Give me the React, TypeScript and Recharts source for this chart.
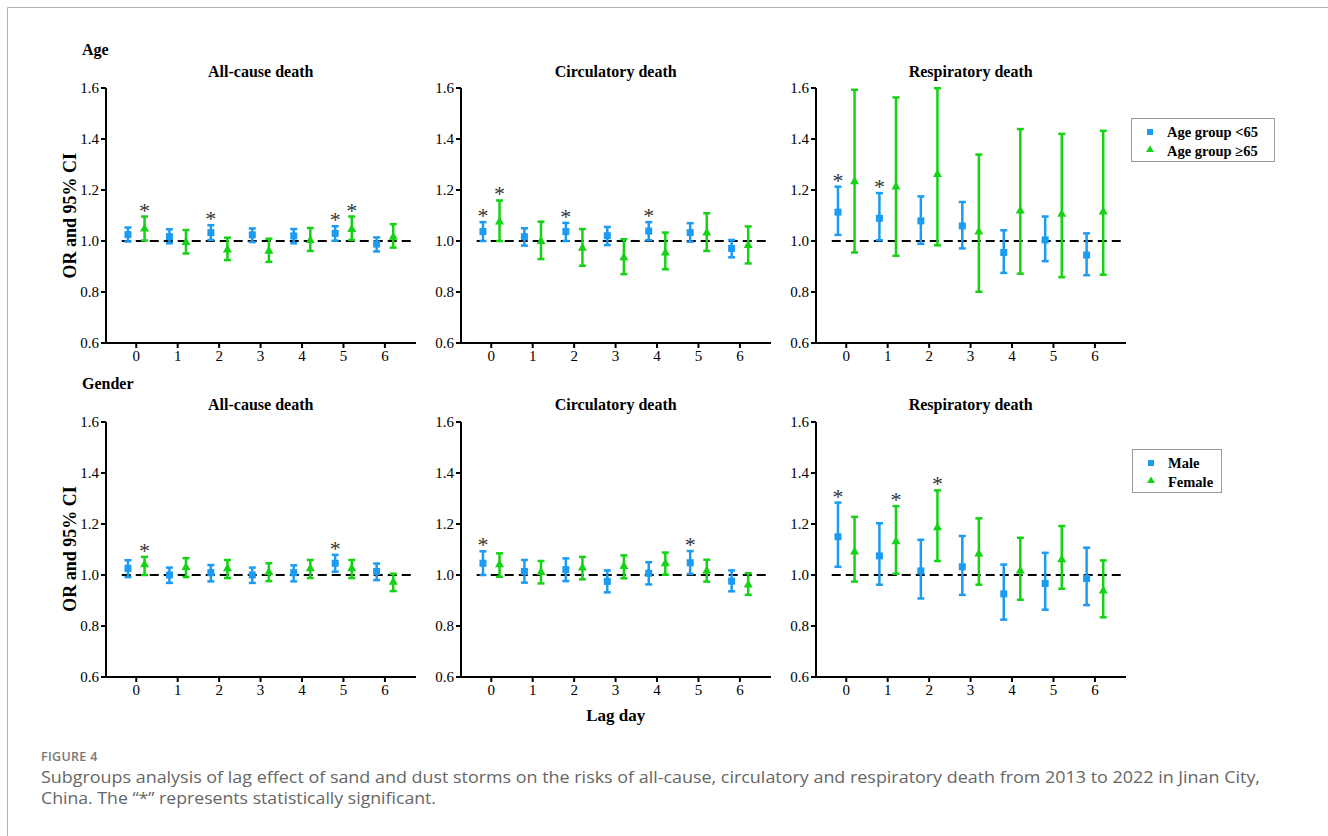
import React from 'react';
import { ScatterChart, Scatter, XAxis, YAxis, ErrorBar, ReferenceLine } from 'recharts';

type Triple = [number, number, number]; // [estimate, lower, upper]

const lagDays = [0, 1, 2, 3, 4, 5, 6];
const yTicks = [0.6, 0.8, 1.0, 1.2, 1.4, 1.6];
const xTicks = [0, 1, 2, 3, 4, 5, 6];

// ---- Age subgroups ----
const ageAllUnder65: Triple[] = [
  [1.025, 0.998, 1.053], [1.017, 0.991, 1.046], [1.033, 1.004, 1.062], [1.024, 0.996, 1.049],
  [1.02, 0.991, 1.047], [1.03, 1.001, 1.058], [0.988, 0.959, 1.014],
];
const ageAllOver65: Triple[] = [
  [1.049, 1.002, 1.096], [0.996, 0.951, 1.043], [0.967, 0.925, 1.013], [0.962, 0.918, 1.009],
  [1.004, 0.961, 1.051], [1.047, 1.004, 1.096], [1.017, 0.974, 1.066],
];
const ageAllUnder65Sig = [2, 5];
const ageAllOver65Sig = [0, 5];

const ageCircUnder65: Triple[] = [
  [1.037, 1.0, 1.074], [1.017, 0.982, 1.05], [1.037, 1.0, 1.071], [1.021, 0.984, 1.055],
  [1.039, 1.003, 1.074], [1.033, 0.997, 1.07], [0.971, 0.936, 1.004],
];
const ageCircOver65: Triple[] = [
  [1.076, 1.0, 1.159], [1.0, 0.929, 1.076], [0.974, 0.903, 1.047], [0.936, 0.87, 1.007],
  [0.955, 0.889, 1.033], [1.033, 0.961, 1.109], [0.984, 0.912, 1.057],
];
const ageCircUnder65Sig = [0, 2, 4];
const ageCircOver65Sig = [0];

const ageRespUnder65: Triple[] = [
  [1.113, 1.024, 1.213], [1.089, 1.003, 1.188], [1.079, 0.989, 1.175], [1.059, 0.971, 1.153],
  [0.955, 0.875, 1.042], [1.004, 0.921, 1.096], [0.945, 0.866, 1.03],
];
const ageRespOver65: Triple[] = [
  [1.234, 0.955, 1.593], [1.214, 0.942, 1.563], [1.263, 0.983, 1.599], [1.037, 0.801, 1.339],
  [1.12, 0.872, 1.439], [1.107, 0.858, 1.42], [1.116, 0.868, 1.432],
];
const ageRespUnder65Sig = [0, 1];
const ageRespOver65Sig: number[] = [];

// ---- Gender subgroups ----
const genderAllMale: Triple[] = [
  [1.026, 0.992, 1.058], [1.0, 0.969, 1.029], [1.009, 0.975, 1.039], [1.0, 0.969, 1.029],
  [1.009, 0.975, 1.038], [1.046, 1.013, 1.079], [1.014, 0.98, 1.045],
];
const genderAllFemale: Triple[] = [
  [1.042, 1.0, 1.071], [1.031, 0.992, 1.066], [1.026, 0.988, 1.059], [1.012, 0.976, 1.046],
  [1.026, 0.988, 1.059], [1.026, 0.988, 1.059], [0.974, 0.937, 1.005],
];
const genderAllMaleSig = [5];
const genderAllFemaleSig = [0];

const genderCircMale: Triple[] = [
  [1.046, 1.0, 1.093], [1.014, 0.97, 1.059], [1.021, 0.976, 1.065], [0.975, 0.932, 1.018],
  [1.007, 0.963, 1.05], [1.048, 1.004, 1.094], [0.976, 0.936, 1.018],
];
const genderCircFemale: Triple[] = [
  [1.042, 0.993, 1.085], [1.012, 0.967, 1.055], [1.029, 0.983, 1.071], [1.035, 0.987, 1.077],
  [1.046, 1.001, 1.088], [1.018, 0.974, 1.06], [0.963, 0.922, 1.007],
];
const genderCircMaleSig = [0, 5];
const genderCircFemaleSig: number[] = [];

const genderRespMale: Triple[] = [
  [1.15, 1.032, 1.284], [1.075, 0.962, 1.203], [1.016, 0.908, 1.138], [1.032, 0.922, 1.153],
  [0.926, 0.825, 1.041], [0.967, 0.864, 1.087], [0.986, 0.882, 1.107],
];
const genderRespFemale: Triple[] = [
  [1.092, 0.974, 1.228], [1.132, 1.005, 1.27], [1.187, 1.055, 1.332], [1.084, 0.962, 1.222],
  [1.018, 0.903, 1.146], [1.062, 0.946, 1.192], [0.939, 0.834, 1.057],
];
const genderRespMaleSig = [0];
const genderRespFemaleSig = [1, 2];

const BLUE = '#1c9bf2';
const GREEN = '#14d214';
const SERIF = "'Liberation Serif', 'Times New Roman', serif";
const SANS = "'Open Sans', 'Noto Sans', sans-serif";

const OFFSET = 0.2;

function toPoints(series: Triple[], offset: number) {
  return series.map((t, i) => ({ x: lagDays[i] + offset, y: t[0], err: [t[0] - t[1], t[2] - t[0]] }));
}
function toStars(series: Triple[], sig: number[], offset: number) {
  return sig.map((i) => ({ x: lagDays[i] + offset, y: series[i][2] }));
}

const SquareShape = (p: any) => (
  <rect x={p.cx - 3.5} y={p.cy - 3.5} width={7} height={7} fill={BLUE} />
);
const TriangleShape = (p: any) => (
  <polygon points={`${p.cx},${p.cy - 5} ${p.cx - 4.5},${p.cy + 3} ${p.cx + 4.5},${p.cy + 3}`} fill={GREEN} />
);
const StarShape = (p: any) => (
  <text x={p.cx} y={p.cy + 1} textAnchor="middle" fontFamily={SERIF} fontSize={22} fill="#333">*</text>
);

const XTick = (p: any) => (
  <text x={p.x} y={p.y} dy="0.71em" textAnchor="middle" fontFamily={SERIF} fontSize={15} fill="#000">
    {p.payload.value}
  </text>
);
const YTick = (p: any) => (
  <text x={p.x} y={p.y} dy="0.35em" textAnchor="end" fontFamily={SERIF} fontSize={15} fill="#000">
    {Number(p.payload.value).toFixed(1)}
  </text>
);

const PLOT_W = 310;
const PLOT_H = 255;
const YAXIS_W = 60;
const M_TOP = 10;

interface PanelProps {
  plotLeft: number;
  plotTop: number;
  a: Triple[];
  b: Triple[];
  aSig: number[];
  bSig: number[];
}

function Panel({ plotLeft, plotTop, a, b, aSig, bSig }: PanelProps) {
  const stars = [...toStars(a, aSig, -OFFSET), ...toStars(b, bSig, OFFSET)];
  return (
    <div style={{ position: 'absolute', left: plotLeft - YAXIS_W, top: plotTop - M_TOP }}>
      <ScatterChart
        width={YAXIS_W + PLOT_W + 5}
        height={M_TOP + PLOT_H + 30}
        margin={{ top: M_TOP, right: 5, bottom: 0, left: 0 }}
      >
        <XAxis
          type="number"
          dataKey="x"
          domain={[-0.73, 6.75]}
          ticks={xTicks}
          allowDataOverflow
          height={30}
          tick={XTick}
          tickSize={5}
          axisLine={{ stroke: '#000', strokeWidth: 2 }}
          tickLine={{ stroke: '#000', strokeWidth: 2 }}
        />
        <YAxis
          type="number"
          dataKey="y"
          domain={[0.6, 1.6]}
          ticks={yTicks}
          allowDataOverflow
          width={YAXIS_W}
          tick={YTick}
          tickSize={5}
          axisLine={{ stroke: '#000', strokeWidth: 2 }}
          tickLine={{ stroke: '#000', strokeWidth: 2 }}
        />
        <ReferenceLine
          segment={[{ x: -0.35, y: 1 }, { x: 6.65, y: 1 }]}
          stroke="#000"
          strokeWidth={2}
          strokeDasharray="9 5"
        />
        <Scatter data={toPoints(a, -OFFSET)} shape={SquareShape} isAnimationActive={false}>
          <ErrorBar dataKey="err" direction="y" width={3.5} stroke={BLUE} strokeWidth={2.5} />
        </Scatter>
        <Scatter data={toPoints(b, OFFSET)} shape={TriangleShape} isAnimationActive={false}>
          <ErrorBar dataKey="err" direction="y" width={3.5} stroke={GREEN} strokeWidth={2.5} />
        </Scatter>
        <Scatter data={stars} shape={StarShape} isAnimationActive={false} />
      </ScatterChart>
    </div>
  );
}

const colLefts = [105.7, 460.7, 815.7];
const rowTops = [88.3, 421.5];
const panelTitles = ['All-cause death', 'Circulatory death', 'Respiratory death'];
const rowLabels = ['Age', 'Gender'];
const legendAge = ['Age group <65', 'Age group \u226565'];
const legendGender = ['Male', 'Female'];
const captionHead = 'FIGURE 4';
const captionLines = [
  'Subgroups analysis of lag effect of sand and dust storms on the risks of all-cause, circulatory and respiratory death from 2013 to 2022 in Jinan City,',
  'China. The \u201c*\u201d represents statistically significant.',
];

function Legend({ left, top, width, labels }: { left: number; top: number; width: number; labels: string[] }) {
  return (
    <svg style={{ position: 'absolute', left, top }} width={width} height={45}>
      <rect x={0.5} y={0.5} width={width - 1} height={43} fill="#fff" stroke="#9a9a9a" strokeWidth={1} />
      <rect x={16} y={11} width={6} height={6} fill={BLUE} />
      <polygon points="19,27.5 15,34 23,34" fill={GREEN} />
      <text x={36} y={19} fontFamily={SERIF} fontWeight="bold" fontSize={14.5} fill="#000">{labels[0]}</text>
      <text x={36} y={38} fontFamily={SERIF} fontWeight="bold" fontSize={14.5} fill="#000">{labels[1]}</text>
    </svg>
  );
}

export default function App() {
  const rows = [
    [
      { a: ageAllUnder65, b: ageAllOver65, aSig: ageAllUnder65Sig, bSig: ageAllOver65Sig },
      { a: ageCircUnder65, b: ageCircOver65, aSig: ageCircUnder65Sig, bSig: ageCircOver65Sig },
      { a: ageRespUnder65, b: ageRespOver65, aSig: ageRespUnder65Sig, bSig: ageRespOver65Sig },
    ],
    [
      { a: genderAllMale, b: genderAllFemale, aSig: genderAllMaleSig, bSig: genderAllFemaleSig },
      { a: genderCircMale, b: genderCircFemale, aSig: genderCircMaleSig, bSig: genderCircFemaleSig },
      { a: genderRespMale, b: genderRespFemale, aSig: genderRespMaleSig, bSig: genderRespFemaleSig },
    ],
  ];
  return (
    <div style={{ position: 'absolute', left: 0, top: 0, width: 1328, height: 836, background: '#fff', overflow: 'hidden' }}>
      <svg style={{ position: 'absolute', left: 0, top: 0 }} width={1328} height={836}>
        <line x1={7.5} y1={7.5} x2={1328} y2={7.5} stroke="#b0b0b0" strokeWidth={1} />
        <line x1={7.5} y1={7.5} x2={7.5} y2={836} stroke="#b0b0b0" strokeWidth={1} />
        {rowTops.map((top, r) => (
          <g key={r}>
            <text x={82} y={top - 33} fontFamily={SERIF} fontWeight="bold" fontSize={16} fill="#000">{rowLabels[r]}</text>
            {colLefts.map((left, c) => (
              <text key={c} x={left + PLOT_W / 2} y={top - 11.5} textAnchor="middle" fontFamily={SERIF} fontWeight="bold" fontSize={16} fill="#000">
                {panelTitles[c]}
              </text>
            ))}
            <text
              x={0}
              y={0}
              transform={`translate(${76}, ${top + PLOT_H / 2}) rotate(-90)`}
              textAnchor="middle"
              fontFamily={SERIF}
              fontWeight="bold"
              fontSize={18}
              fill="#000"
            >
              OR and 95% CI
            </text>
          </g>
        ))}
        <text x={615.7} y={721} textAnchor="middle" fontFamily={SERIF} fontWeight="bold" fontSize={17} fill="#000">Lag day</text>
        <text x={41} y={761} fontFamily={SANS} fontWeight={600} fontSize={12.5} fill="#777" letterSpacing={0.3}>{captionHead}</text>
        <text x={41} y={782.5} fontFamily={SANS} fontSize={16.5} fill="#666" textLength={1219} lengthAdjust="spacingAndGlyphs">{captionLines[0]}</text>
        <text x={41} y={803.5} fontFamily={SANS} fontSize={16.5} fill="#666" textLength={395} lengthAdjust="spacingAndGlyphs">{captionLines[1]}</text>
      </svg>
      {rows.map((row, r) =>
        row.map((p, c) => (
          <Panel key={`${r}-${c}`} plotLeft={colLefts[c]} plotTop={rowTops[r]} a={p.a} b={p.b} aSig={p.aSig} bSig={p.bSig} />
        ))
      )}
      <Legend left={1130.5} top={118} width={144} labels={legendAge} />
      <Legend left={1131.5} top={449} width={90} labels={legendGender} />
    </div>
  );
}
